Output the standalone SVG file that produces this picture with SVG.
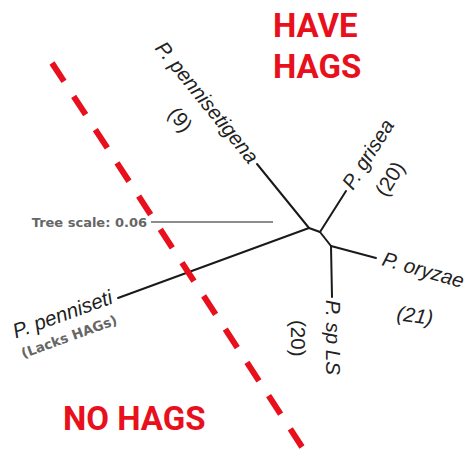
<svg xmlns="http://www.w3.org/2000/svg" width="466" height="451" viewBox="0 0 466 451">
<style>
.br{stroke:#1a1a1a;stroke-width:2;fill:none;stroke-linecap:round}
.lab{font-family:"Liberation Sans",Arial,sans-serif;font-size:20.5px;font-style:italic;fill:#222}
.num{font-family:"Liberation Sans",Arial,sans-serif;font-size:20.5px;fill:#222}
.big{font-family:Roboto,"Liberation Sans",sans-serif;font-weight:700;font-size:33px;fill:#e8101c}
.gray{font-family:"DejaVu Sans",Verdana,sans-serif;font-weight:700;fill:#666}
</style>
<rect width="466" height="451" fill="#fff"/>
<g id="connectors">
<line class="br" x1="309" y1="228" x2="257" y2="164"/>
<line class="br" x1="309" y1="228" x2="118" y2="298"/>
<line class="br" x1="309" y1="228" x2="320" y2="232"/>
<line class="br" x1="320" y1="232" x2="346" y2="191"/>
<line class="br" x1="320" y1="232" x2="331" y2="246"/>
<line class="br" x1="331" y1="246" x2="376" y2="258"/>
<line class="br" x1="331" y1="246" x2="332" y2="297"/>
</g>
<g id="scale">
<line x1="151" y1="222" x2="273" y2="222" stroke="#666" stroke-width="1.5"/>
<text class="gray" x="147" y="227" font-size="13" text-anchor="end">Tree scale: 0.06</text>
</g>
<g id="divider">
<line x1="52" y1="63" x2="302" y2="447" stroke="#e8101c" stroke-width="6" stroke-dasharray="22 17.7"/>
</g>
<g id="n-pennisetigena">
<text class="lab" x="249" y="165" text-anchor="end" transform="rotate(50.9 249 165)">P. pennisetigena</text>
<text class="num" x="175" y="124" text-anchor="middle" transform="rotate(50.9 175 124)">(9)</text>
</g>
<g id="n-grisea">
<text class="lab" x="353" y="191" transform="rotate(-57.6 353 191)">P. grisea</text>
<text class="num" x="386" y="198" transform="rotate(-57.6 386 198)">(20)</text>
</g>
<g id="n-oryzae">
<text class="lab" x="381" y="265" font-size="19.5" transform="rotate(16 381 265)">P. oryzae</text>
<text class="lab" x="396" y="320" transform="rotate(8 396 320)">(21)</text>
</g>
<g id="n-spLS">
<text class="lab" x="326" y="300" transform="rotate(90 326 300)">P. sp LS</text>
<text class="num" x="291" y="320" transform="rotate(90 291 320)">(20)</text>
</g>
<g id="n-penniseti">
<text class="lab" x="114" y="303" text-anchor="end" transform="rotate(-19.9 114 303)">P. penniseti</text>
<text class="gray" x="118" y="324" font-size="13.5" fill="#555" text-anchor="end" transform="rotate(-19.9 118 324)">(Lacks HAGs)</text>
</g>
<g id="regions">
<text class="big" x="273" y="37">HAVE</text>
<text class="big" x="273" y="78">HAGS</text>
<text class="big" x="63" y="430">NO HAGS</text>
</g>
</svg>
